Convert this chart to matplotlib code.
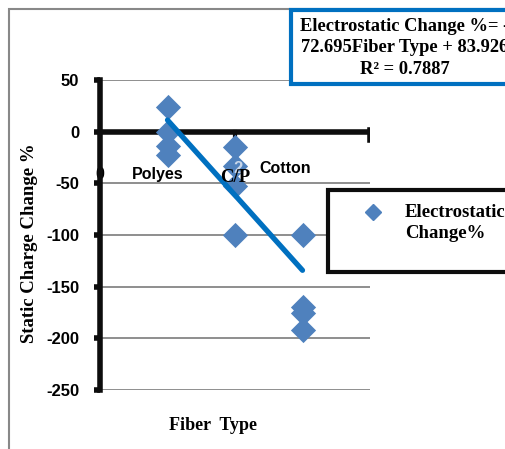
import numpy as np
import matplotlib
matplotlib.use("Agg")
import matplotlib.pyplot as plt
from matplotlib.patches import Rectangle
from matplotlib.lines import Line2D

# data
fiber_x = [1, 1, 1, 1, 2, 2, 2, 2, 3, 3, 3, 3]
static_change = [24, 0, -14, -23, -15, -33, -53, -100, -100, -170, -175, -192]
slope = -72.695
intercept = 83.926
r2 = 0.7887
cat_names = ["0", "Polyes", "C/P", "Cotton"]
y_ticks = [50, 0, -50, -100, -150, -200, -250]

W, H = 505, 449
fig = plt.figure(figsize=(W / 100, H / 100), dpi=100)
ax = fig.add_axes([100 / W, 1 - 390 / H, 270 / W, 310 / H])

sans = "Liberation Sans"
serif = "Liberation Serif"

ax.set_xlim(0, 4)
ax.set_ylim(-250, 50)

# grid lines
for v in y_ticks:
    if v != 0:
        ax.axhline(v, color="#868686", lw=1.3, zorder=1)
# x axis at zero
ax.axhline(0, color="#0d0d0d", lw=4, zorder=2, solid_capstyle="butt")
ax.plot([2, 2], [0, -6], color="#0d0d0d", lw=3, zorder=2)
ax.plot([4, 4], [2, -8], color="#0d0d0d", lw=4, zorder=2)

ax.scatter(fiber_x, static_change, marker="D", s=165, color="#4F81BD",
           zorder=4, linewidths=0)

tx = np.array([1, 3])
ax.plot(tx, slope * tx + intercept, color="#0070C0", lw=3.8,
        solid_capstyle="round", zorder=5)

# category labels
ax.text(0, -41, cat_names[0], fontfamily=sans, fontweight="bold",
        fontsize=11.5, ha="center", va="center", zorder=1)
ax.text(0.86, -41, cat_names[1], fontfamily=sans, fontweight="bold",
        fontsize=11.5, ha="center", va="center", zorder=6)
ax.text(2.0, -44, cat_names[2], fontfamily=serif, fontweight="bold",
        fontsize=13.5, ha="center", va="center", zorder=6)
ax.text(2.05, -36, "2", fontfamily=sans, fontweight="bold",
        fontsize=12, ha="center", va="center", color="#c9d7ea", zorder=5)
ax.text(2.74, -36, cat_names[3], fontfamily=sans, fontweight="bold",
        fontsize=11.5, ha="center", va="center", zorder=6)

for s in ["top", "right", "bottom"]:
    ax.spines[s].set_visible(False)
ax.spines["left"].set_linewidth(4)
ax.spines["left"].set_color("#0d0d0d")
ax.spines["left"].set_zorder(3)
ax.set_xticks([])
ax.set_yticks(y_ticks)
ax.set_yticklabels([str(v) for v in y_ticks], fontfamily=sans,
                   fontweight="bold", fontsize=12)
ax.tick_params(axis="y", direction="out", length=4, width=4, pad=11,
               color="#0d0d0d")

ax.set_ylabel("Static Charge Change %", fontfamily=serif, fontweight="bold",
              fontsize=13.5)
ax.yaxis.set_label_coords((30 - 100) / 270, (390 - 243) / 310)
ax.yaxis.label.set_va("center")
ax.set_xlabel("Fiber  Type", fontfamily=serif, fontweight="bold",
              fontsize=13)
ax.xaxis.set_label_coords((213 - 100) / 270, -(425 - 390) / 310)
ax.xaxis.label.set_va("center")

# figure border
fig.add_artist(Rectangle((9 / W, -0.1), 1.2, 1 - 9 / H + 0.1,
                         transform=fig.transFigure, fill=False,
                         edgecolor="#888888", lw=1.5, zorder=0))

# equation box
fig.add_artist(Rectangle((291 / W, 1 - 84 / H), 0.6, 74 / H,
                         transform=fig.transFigure, facecolor="white",
                         edgecolor="#0070C0", lw=3, zorder=10))
eq_text = (f"Electrostatic Change %= -\n{-slope:.3f}Fiber Type + "
           f"{intercept:.3f}\nR² = {r2:.4f}")
fig.text(300 / W, 1 - 48 / H, eq_text,
         fontfamily=serif, fontweight="bold", fontsize=13.3, ha="left",
         va="center", multialignment="center", linespacing=1.35, zorder=11)

# legend box
fig.add_artist(Rectangle((328 / W, 1 - 272 / H), 0.6, 82 / H,
                         transform=fig.transFigure, facecolor="white",
                         edgecolor="#0d0d0d", lw=3, zorder=10))
fig.add_artist(Line2D([373 / W], [1 - 212 / H], marker="D", ms=8,
                      color="#4F81BD", lw=0, transform=fig.transFigure,
                      zorder=11))
fig.text(405 / W, 1 - 223 / H, "Electrostatic\nChange%", fontfamily=serif,
         fontweight="bold", fontsize=13.5, ha="left", va="center",
         linespacing=1.3, zorder=11)

fig.savefig("out.png", dpi=100)
